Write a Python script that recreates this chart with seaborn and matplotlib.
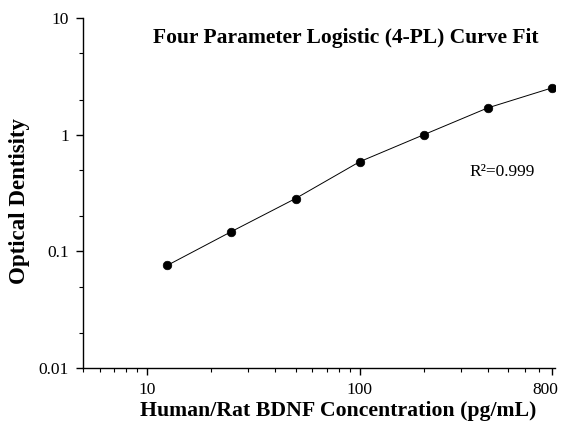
import numpy as np
import pandas as pd
import matplotlib
matplotlib.use('Agg')
import matplotlib.pyplot as plt
import matplotlib.ticker as mticker
from matplotlib.transforms import ScaledTranslation
import seaborn as sns

# standard concentrations (pg/mL) and measured OD
concentration = [12.5, 25, 50, 100, 200, 400, 800]
optical_density = [0.076, 0.148, 0.284, 0.587, 1.0, 1.70, 2.52]
x_ticks = [10, 100, 800]
x_tick_labels = ['10', '100', '800']
y_ticks = [0.01, 0.1, 1, 10]
y_tick_labels = ['0.01', '0.1', '1', '10']


def main():
    sns.set_style('ticks')
    plt.rcParams['font.family'] = ['Liberation Serif', 'DejaVu Serif']
    plt.rcParams['text.color'] = 'black'
    plt.rcParams['axes.labelcolor'] = 'black'

    df = pd.DataFrame({'conc': concentration, 'od': optical_density})

    fig = plt.figure(figsize=(5.63, 4.23), dpi=100)
    ax = fig.add_axes([0.147, 0.130, 0.839, 0.827])

    # fitted curve
    sns.lineplot(x='conc', y='od', data=df, color='black', linewidth=0.7, ax=ax)
    # standards
    sns.scatterplot(x='conc', y='od', data=df, color='black', s=38,
                    edgecolor='black', linewidth=0.5, ax=ax, zorder=3)

    ax.set_xscale('log')
    ax.set_yscale('log')
    ax.set_xlim(5, 830)
    ax.set_ylim(0.01, 10)

    ax.xaxis.set_major_locator(mticker.FixedLocator(x_ticks))
    ax.xaxis.set_major_formatter(mticker.FixedFormatter(x_tick_labels))
    ax.xaxis.set_minor_locator(mticker.LogLocator(base=10, subs=np.arange(2, 10)))
    ax.xaxis.set_minor_formatter(mticker.NullFormatter())
    ax.yaxis.set_major_locator(mticker.FixedLocator(y_ticks))
    ax.yaxis.set_major_formatter(mticker.FixedFormatter(y_tick_labels))
    ax.yaxis.set_minor_locator(mticker.LogLocator(base=10, subs=[2, 5]))
    ax.yaxis.set_minor_formatter(mticker.NullFormatter())

    ax.tick_params(which='major', direction='out', length=5, width=1, labelsize=12.5,
                   colors='black', pad=5)
    ax.tick_params(which='minor', direction='out', length=3, width=0.8, colors='black')
    for s in ['top', 'right']:
        ax.spines[s].set_visible(False)
    for s in ['left', 'bottom']:
        ax.spines[s].set_linewidth(1)
        ax.spines[s].set_color('black')

    # pull the "800" label in a little so it stays inside the figure
    last = ax.xaxis.get_major_ticks()[-1].label1
    last.set_transform(last.get_transform() + ScaledTranslation(-6 / 100, 0, fig.dpi_scale_trans))

    ax.set_xlabel('Human/Rat BDNF Concentration (pg/mL)', fontsize=15.7, fontweight='bold',
                  labelpad=2, x=0.54)
    ax.set_ylabel('Optical Dentisity', fontsize=16.5, fontweight='bold', labelpad=6, y=0.477)

    ax.text(0.557, 0.943, 'Four Parameter Logistic (4-PL) Curve Fit', transform=ax.transAxes,
            ha='center', va='center', fontsize=15.5, fontweight='bold')
    ax.text(0.888, 0.56, 'R²=0.999', transform=ax.transAxes, ha='center', va='center', fontsize=12.5)

    fig.savefig('out.png', dpi=100)


if __name__ == '__main__':
    main()
